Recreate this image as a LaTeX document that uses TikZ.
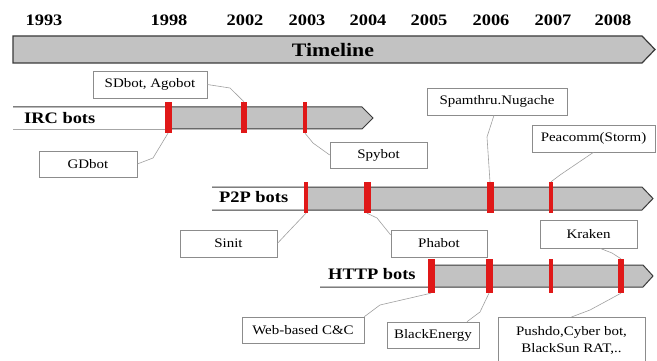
\documentclass[tikz,border=0pt]{standalone}
\usepackage{fontspec}
\setmainfont{Liberation Serif}[FakeStretch=1.15]
\definecolor{barfill}{HTML}{C2C2C2}
\definecolor{barline}{HTML}{3A3A3A}
\definecolor{mkred}{HTML}{E01818}
\definecolor{boxline}{HTML}{8C8C8C}
\definecolor{connline}{HTML}{A0A0A0}
\tikzset{
  yearlbl/.style={font=\fontsize{16}{18}\selectfont\bfseries, inner sep=0pt},
  barlbl/.style={font=\fontsize{16}{18}\selectfont\bfseries, inner sep=0pt, anchor=west},
  bar/.style={fill=barfill, draw=barline, line width=1pt},
  mk/.style={fill=mkred, draw=none, inner sep=0pt, minimum height=31pt},
  mkwide/.style={mk, minimum width=7pt},
  mkthin/.style={mk, minimum width=4pt},
  lbox/.style={draw=boxline, line width=0.6pt, fill=white, inner sep=0pt,
               font=\fontsize{13}{17}\selectfont, align=center},
  conn/.style={draw=connline, line width=0.6pt},
}
\begin{document}
\begin{tikzpicture}[x=1pt,y=-1pt]
\useasboundingbox (0,0) rectangle (657,361);
\clip (0,0) rectangle (657,361);
\fill[white] (0,0) rectangle (657,361);

% year header
\foreach \yr/\xx in {1993/44,1998/169,2002/245,2003/307,2004/368,2005/429,2006/491,2007/553,2008/613}
  \node[yearlbl] (y\yr) at (\xx,20) {\yr};

% timeline arrow
\draw[bar, line width=1.2pt] (13,36) -- (642,36) -- (655,49.5) -- (642,63) -- (13,63) -- cycle;
\node[font=\fontsize{19}{21}\selectfont\bfseries, inner sep=0pt] (tl) at (333,50) {Timeline};

% IRC bots
\fill[barfill] (168,107) -- (362,107) -- (373,118) -- (362,129) -- (168,129) -- cycle;
\draw[barline, line width=1pt] (13,107) -- (362,107) -- (373,118) -- (362,129) -- (168,129);
\draw[gray!70, line width=0.8pt] (13,129) -- (168,129);
\node[barlbl] (irc) at (24,118) {IRC bots};
\node[mkwide] (i98) at (168,117.5) {};
\node[mkwide, minimum width=6pt] (i02) at (244,117.5) {};
\node[mkthin] (i03) at (305,117.5) {};

% P2P bots
\fill[barfill] (306,187) -- (642,187) -- (653,198.5) -- (642,210) -- (306,210) -- cycle;
\draw[barline, line width=1pt] (212,187) -- (642,187) -- (653,198.5) -- (642,210) -- (212,210);
\node[barlbl] (p2p) at (219,197.5) {P2P bots};
\node[mkthin] (p03) at (306,197.5) {};
\node[mkwide] (p04) at (367,197.5) {};
\node[mkwide] (p06) at (490,197.5) {};
\node[mkthin] (p07) at (551,197.5) {};

% HTTP bots
\fill[barfill] (431,265) -- (643,265) -- (653,276) -- (643,287) -- (431,287) -- cycle;
\draw[barline, line width=1pt] (431,265) -- (643,265) -- (653,276) -- (643,287) -- (320,287);
\node[barlbl] (http) at (328,274.5) {HTTP bots};
\node[mkwide, minimum height=34pt] (h05) at (431,276) {};
\node[mkwide, minimum height=34pt] (h06) at (489,276) {};
\node[mkthin, minimum height=34pt] (h07) at (551,276) {};
\node[mkwide, minimum width=6pt, minimum height=34pt] (h08) at (621,276) {};

% label boxes
\node[lbox, minimum width=114pt, minimum height=27pt] (sd) at (150,84.5) {SDbot, Agobot};
\node[lbox, minimum width=98pt, minimum height=26pt] (gd) at (88,164) {GDbot};
\node[lbox, minimum width=97pt, minimum height=26pt] (spy) at (378.5,155) {Spybot};
\node[lbox, minimum width=140pt, minimum height=27pt] (spam) at (497,101.5) {Spamthru.Nugache};
\node[lbox, minimum width=123pt, minimum height=27pt] (pea) at (593.5,138.5) {Peacomm(Storm)};
\node[lbox, minimum width=97pt, minimum height=27pt] (sinit) at (228.5,243.5) {Sinit};
\node[lbox, minimum width=96pt, minimum height=27pt] (pha) at (439,243.5) {Phabot};
\node[lbox, minimum width=97pt, minimum height=28pt] (kra) at (588.5,234) {Kraken};
\node[lbox, minimum width=122pt, minimum height=26pt] (web) at (303,330) {Web-based C\&C};
\node[lbox, minimum width=92pt, minimum height=26pt] (be) at (433,335) {BlackEnergy};
\node[lbox, minimum width=147pt, anchor=north, inner ysep=9pt, text depth=14pt] (push) at (571.5,317)
  {Pushdo,Cyber bot,\\BlackSun RAT,..};

% connectors
\draw[conn] (sd.east) -- (230,88) -- (i02.north);
\draw[conn] (gd.east) -- (153,158) -- (i98.south);
\draw[conn] (i03.south) -- (313,143) -- (spy.west);
\draw[conn] (spam.south -| 494,0) -- (487,137) -- (p06.north);
\draw[conn] (pea.south) -- (560,175) -- (p07.north);
\draw[conn] (sinit.east) -- (290,230) -- (p03.south);
\draw[conn] (pha.west |- 0,235) -- (377,218) -- (p04.south);
\draw[conn] (kra.south -| 600,0) -- (612,253) -- (h08.north);
\draw[conn] (web.north east) -- (380,305) -- (h05.south);
\draw[conn] (be.north -| 467,0) -- (480,312) -- (h06.south);
\draw[conn] (push.north) -- (590,310) -- (h08.south);
\end{tikzpicture}
\end{document}
